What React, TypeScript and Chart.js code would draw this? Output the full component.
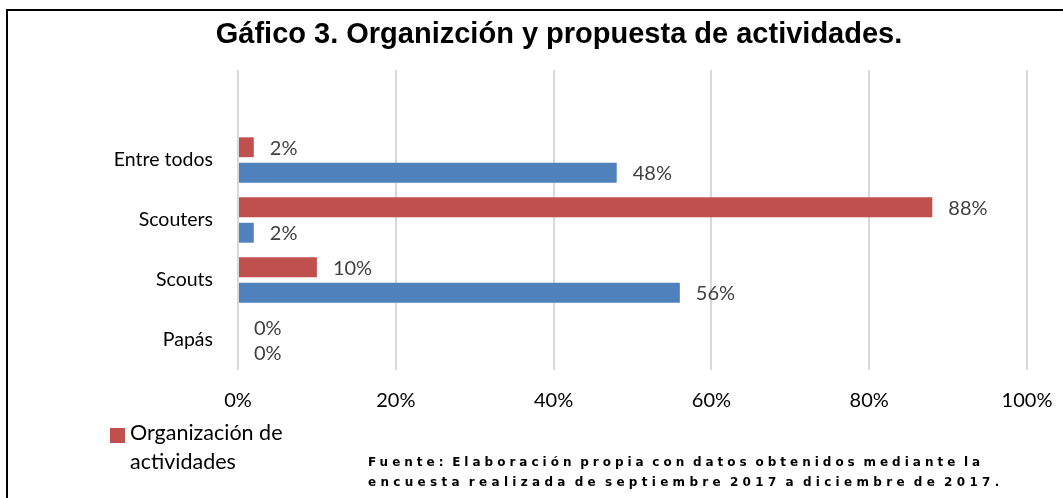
import React, { useEffect, useRef } from 'react';
import { Chart, registerables } from 'chart.js';

Chart.register(...registerables);

// ---- data ----
const categories = ['', 'Entre todos', 'Scouters', 'Scouts', 'Papás'];
const organizacion = [null, 2, 88, 10, 0];
const propuesta = [null, 48, 2, 56, 0];
const xTicks = [0, 20, 40, 60, 80, 100];
const seriesNames = ['Organización de actividades', 'Propuesta de actividades'];
const titleText = 'Gáfico 3. Organizción y propuesta de actividades.';
const legendLines = ['Organización de', 'actividades'];
const footerLines = [
  'Fuente: Elaboración propia con datos obtenidos mediante la',
  'encuesta realizada de septiembre 2017 a diciembre de 2017.',
];

const RED = '#C0504D';
const BLUE = '#4F81BD';
const FONT = 'Lato';
const footerSpacing = [4, 4.3];

const valueLabels = {
  id: 'valueLabels',
  afterDatasetsDraw(chart: any) {
    const ctx = chart.ctx;
    ctx.save();
    ctx.font = `20px ${FONT}`;
    ctx.fillStyle = '#404040';
    ctx.textAlign = 'left';
    ctx.textBaseline = 'middle';
    chart.data.datasets.forEach((ds: any, i: number) => {
      const meta = chart.getDatasetMeta(i);
      meta.data.forEach((bar: any, j: number) => {
        const v = ds.data[j];
        if (v == null) return;
        ctx.fillText(`${v}%`, bar.x + 16, bar.y + 1);
      });
    });
    ctx.restore();
  },
};

export default function App() {
  const ref = useRef<HTMLCanvasElement>(null);

  useEffect(() => {
    if (!ref.current) return;
    const chart = new Chart(ref.current, {
      type: 'bar',
      data: {
        labels: categories,
        datasets: [
          {
            label: seriesNames[0],
            data: organizacion,
            backgroundColor: RED,
            categoryPercentage: 0.85,
            barPercentage: 0.78,
          },
          {
            label: seriesNames[1],
            data: propuesta,
            backgroundColor: BLUE,
            categoryPercentage: 0.85,
            barPercentage: 0.78,
          },
        ],
      },
      options: {
        indexAxis: 'y',
        animation: false,
        responsive: false,
        layout: { padding: { left: 0, top: 70, right: 36, bottom: 0 } },
        plugins: {
          legend: { display: false },
          title: { display: false },
          tooltip: { enabled: false },
        },
        scales: {
          x: {
            min: 0,
            max: 100,
            afterBuildTicks: (s: any) => {
              s.ticks = xTicks.map((v) => ({ value: v }));
            },
            ticks: {
              callback: (v: any) => `${v}%`,
              font: { family: FONT, size: 20 },
              color: '#000',
              padding: 19,
              maxRotation: 0,
            },
            grid: { color: '#D9D9D9', lineWidth: 2, drawTicks: false },
            border: { display: false },
            afterFit: (s: any) => {
              s.height = 128;
              s.paddingLeft = 0;
              s.paddingRight = 0;
            },
          },
          y: {
            ticks: {
              font: { family: FONT, size: 19.5 },
              color: '#000',
              padding: 25,
            },
            grid: { display: false, drawTicks: false },
            border: { display: false },
            afterFit: (s: any) => {
              s.width = 238;
              s.paddingTop = 0;
              s.paddingBottom = 0;
            },
          },
        },
      },
      plugins: [valueLabels],
    } as any);
    return () => chart.destroy();
  }, []);

  return (
    <div
      style={{
        position: 'absolute',
        left: 0,
        top: 0,
        width: 1063,
        height: 498,
        overflow: 'hidden',
        background: '#fff',
      }}
    >
      <div
        style={{
          position: 'absolute',
          left: 6,
          top: 9,
          width: 1200,
          height: 600,
          border: '2px solid #000',
        }}
      />
      <canvas
        ref={ref}
        width={1063}
        height={498}
        style={{ position: 'absolute', left: 0, top: 0, width: 1063, height: 498 }}
      />
      <div
        style={{
          position: 'absolute',
          left: 0,
          top: 17,
          width: 1118,
          textAlign: 'center',
          fontFamily: '"Liberation Sans", Arial, sans-serif',
          fontWeight: 'bold',
          fontSize: 29,
          lineHeight: 'normal',
          color: '#000',
          whiteSpace: 'nowrap',
        }}
      >
        {titleText}
      </div>
      <div
        style={{
          position: 'absolute',
          left: 110,
          top: 428,
          width: 15,
          height: 15,
          background: RED,
        }}
      />
      <div
        style={{
          position: 'absolute',
          left: 130,
          top: 418,
          fontFamily: FONT,
          fontSize: 21.5,
          lineHeight: '29px',
          color: '#000',
          whiteSpace: 'nowrap',
        }}
      >
        {legendLines.map((l) => (
          <div key={l}>{l}</div>
        ))}
      </div>
      <div
        style={{
          position: 'absolute',
          left: 368,
          top: 452,
          fontFamily: '"DejaVu Sans", sans-serif',
          fontWeight: 'bold',
          fontSize: 12,
          lineHeight: '20px',
          wordSpacing: -3.5,
          color: '#000',
          whiteSpace: 'nowrap',
        }}
      >
        {footerLines.map((l, i) => (
          <div key={l} style={{ letterSpacing: footerSpacing[i] }}>
            {l}
          </div>
        ))}
      </div>
    </div>
  );
}
